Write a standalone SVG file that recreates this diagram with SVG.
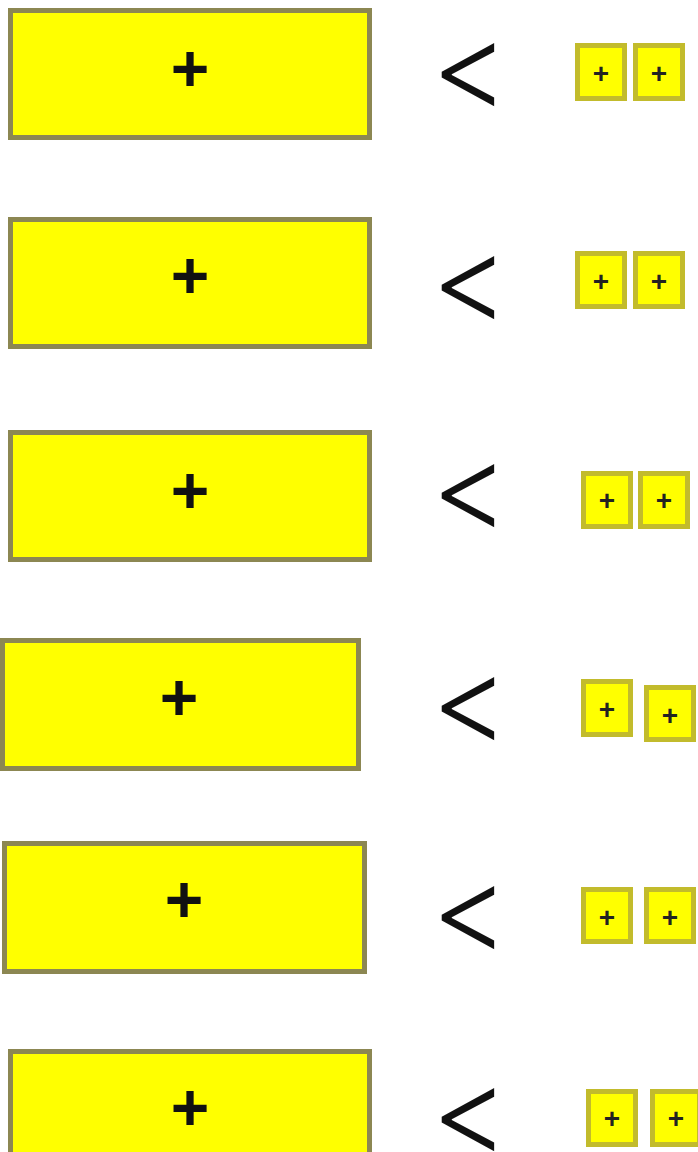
<svg xmlns="http://www.w3.org/2000/svg" width="698" height="1152" viewBox="0 0 698 1152">
<style>
.big{fill:#ffff00;stroke:#8c8752;stroke-width:5}
.sm{fill:#ffff00;stroke:#c2bb2c;stroke-width:5}
.bp{font-family:"Liberation Sans",Arial,sans-serif;font-weight:bold;font-size:66px;fill:#111;text-anchor:middle;dominant-baseline:central}
.sp{font-family:"Liberation Sans",Arial,sans-serif;font-weight:bold;font-size:28px;fill:#222;text-anchor:middle;dominant-baseline:central}
.lt{font-family:Inter,"Open Sans",sans-serif;font-weight:300;font-size:120px;fill:#111;text-anchor:middle;dominant-baseline:central}
</style>
<rect width="698" height="1152" fill="#fff"/>
<g id="row1">
<g id="big1"><rect class="big" x="10.5" y="10.5" width="359" height="127"/><text class="bp" x="190" y="68">+</text></g>
<text class="lt" x="470" y="65">&lt;</text>
<g id="s1a"><rect class="sm" x="577.5" y="45.5" width="47" height="53"/><text class="sp" x="601" y="73">+</text></g>
<g id="s1b"><rect class="sm" x="635.5" y="45.5" width="47" height="53"/><text class="sp" x="659" y="73">+</text></g>
</g>
<g id="row2">
<g id="big2"><rect class="big" x="10.5" y="219.5" width="359" height="127"/><text class="bp" x="190" y="275">+</text></g>
<text class="lt" x="470" y="278">&lt;</text>
<g id="s2a"><rect class="sm" x="577.5" y="253.5" width="47" height="53"/><text class="sp" x="601" y="281">+</text></g>
<g id="s2b"><rect class="sm" x="635.5" y="253.5" width="47" height="53"/><text class="sp" x="659" y="281">+</text></g>
</g>
<g id="row3">
<g id="big3"><rect class="big" x="10.5" y="432.5" width="359" height="127"/><text class="bp" x="190" y="490">+</text></g>
<text class="lt" x="470" y="486">&lt;</text>
<g id="s3a"><rect class="sm" x="583.5" y="473.5" width="47" height="53"/><text class="sp" x="607" y="500">+</text></g>
<g id="s3b"><rect class="sm" x="640.5" y="473.5" width="47" height="53"/><text class="sp" x="664" y="500">+</text></g>
</g>
<g id="row4">
<g id="big4"><rect class="big" x="2.5" y="640.5" width="356" height="128"/><text class="bp" x="179" y="697">+</text></g>
<text class="lt" x="470" y="699">&lt;</text>
<g id="s4a"><rect class="sm" x="583.5" y="681.5" width="47" height="53"/><text class="sp" x="607" y="709">+</text></g>
<g id="s4b"><rect class="sm" x="646.5" y="687.5" width="47" height="52"/><text class="sp" x="670" y="715">+</text></g>
</g>
<g id="row5">
<g id="big5"><rect class="big" x="4.5" y="843.5" width="360" height="128"/><text class="bp" x="184" y="899">+</text></g>
<text class="lt" x="470" y="908">&lt;</text>
<g id="s5a"><rect class="sm" x="583.5" y="889.5" width="47" height="52"/><text class="sp" x="607" y="917">+</text></g>
<g id="s5b"><rect class="sm" x="646.5" y="889.5" width="47" height="52"/><text class="sp" x="670" y="917">+</text></g>
</g>
<g id="row6">
<g id="big6"><rect class="big" x="10.5" y="1051.5" width="359" height="128"/><text class="bp" x="190" y="1107">+</text></g>
<text class="lt" x="470" y="1110">&lt;</text>
<g id="s6a"><rect class="sm" x="588.5" y="1091.5" width="47" height="53"/><text class="sp" x="612" y="1118">+</text></g>
<g id="s6b"><rect class="sm" x="652.5" y="1091.5" width="47" height="53"/><text class="sp" x="676" y="1118">+</text></g>
</g>
<g id="connectors"></g>
</svg>
